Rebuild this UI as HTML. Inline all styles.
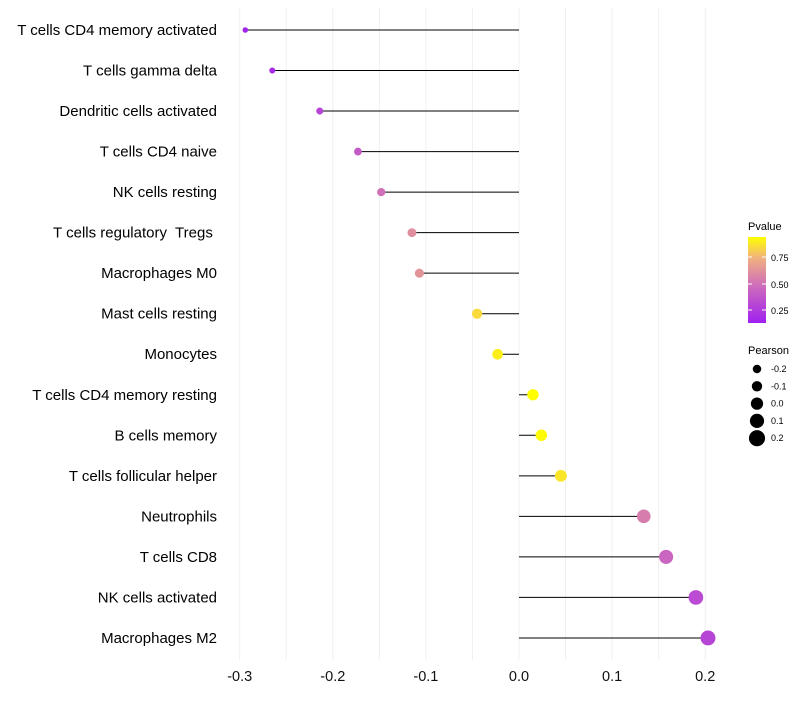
<!DOCTYPE html>
<html><head><meta charset="utf-8"><style>
body{margin:0;background:#fff;font-family:"Liberation Sans",sans-serif}
text{white-space:pre}
</style></head><body>
<svg id="c" width="800" height="700" xmlns="http://www.w3.org/2000/svg">
<defs><linearGradient id="pg" x1="0" y1="1" x2="0" y2="0">
<stop offset="0" stop-color="#a020f0"/><stop offset="0.45" stop-color="#d070b8"/><stop offset="0.75" stop-color="#f0b080"/><stop offset="1" stop-color="#ffff00"/></linearGradient></defs>
<g id="grid"></g><g id="marks"></g><g id="labels"></g>
<g>
<text x="748" y="230" font-size="11">Pvalue</text>
<rect x="748" y="237" width="18" height="86" fill="url(#pg)"/>
<line x1="748" x2="752" y1="257" y2="257" stroke="#fff"/><line x1="762" x2="766" y1="257" y2="257" stroke="#fff"/>
<line x1="748" x2="752" y1="284" y2="284" stroke="#fff"/><line x1="762" x2="766" y1="284" y2="284" stroke="#fff"/>
<line x1="748" x2="752" y1="310" y2="310" stroke="#fff"/><line x1="762" x2="766" y1="310" y2="310" stroke="#fff"/>
<text x="771" y="261" font-size="9">0.75</text><text x="771" y="288" font-size="9">0.50</text><text x="771" y="314" font-size="9">0.25</text>
</g>
<g id="sizeleg">
<text x="748" y="354" font-size="11">Pearson</text>
</g>
</svg>
<script>
const categories=["T cells CD4 memory activated","T cells gamma delta","Dendritic cells activated","T cells CD4 naive","NK cells resting","T cells regulatory  Tregs ","Macrophages M0","Mast cells resting","Monocytes","T cells CD4 memory resting","B cells memory","T cells follicular helper","Neutrophils","T cells CD8","NK cells activated","Macrophages M2"];
const pearson=[-0.294,-0.265,-0.214,-0.173,-0.148,-0.115,-0.107,-0.045,-0.023,0.015,0.024,0.045,0.134,0.158,0.190,0.203];
const pvalue=[0.15,0.18,0.30,0.40,0.50,0.62,0.64,0.85,0.90,0.95,0.93,0.88,0.55,0.45,0.33,0.30];
const xTicks=[-0.3,-0.2,-0.1,0.0,0.1,0.2];
const sizeLegend=[-0.2,-0.1,0.0,0.1,0.2];
const NS="http://www.w3.org/2000/svg";
const x=v=>519+v*931;
const y=i=>30+i*40.53;
const r=v=>2.7+(v+0.3)*9.5;
function lerp(a,b,t){return a.map((c,k)=>Math.round(c+(b[k]-c)*t));}
const stops=[[0.13,[160,32,240]],[0.5,[208,112,184]],[0.75,[240,176,128]],[0.94,[255,255,0]]];
function col(p){if(p<=stops[0][0])return `rgb(${stops[0][1]})`;for(let k=1;k<stops.length;k++){if(p<=stops[k][0]){const t=(p-stops[k-1][0])/(stops[k][0]-stops[k-1][0]);return `rgb(${lerp(stops[k-1][1],stops[k][1],t)})`;}}return "rgb(255,255,0)";}
function mk(t,a,p){const e=document.createElementNS(NS,t);for(const k in a)e.setAttribute(k,a[k]);p.appendChild(e);return e;}
const grid=document.getElementById('grid'),marks=document.getElementById('marks'),labels=document.getElementById('labels');
for(let v=-0.3;v<=0.2001;v+=0.05){const g=mk('line',{x1:x(v),x2:x(v),y1:8,y2:660,stroke:'#f0f0f0','stroke-width':1},grid);

}
xTicks.forEach(v=>{const t=mk('text',{x:x(v),y:681,'font-size':14.5,'text-anchor':'middle',fill:'#111'},labels);t.textContent=v.toFixed(1);

});
categories.forEach((c,i)=>{
const t=mk('text',{x:217,y:y(i)+5,'font-size':15,'text-anchor':'end',fill:'#000'},labels);t.textContent=c;


const l=mk('line',{x1:x(0),x2:x(pearson[i]),y1:y(i),y2:y(i),stroke:'#000','stroke-width':1},marks);


const d=mk('circle',{cx:x(pearson[i]),cy:y(i),r:r(pearson[i]),fill:col(pvalue[i])},marks);


});
const sl=document.getElementById('sizeleg');
sizeLegend.forEach((v,k)=>{const cy=369+k*17.3;
const c=mk('circle',{cx:757,cy:cy,r:r(v)+0.6,fill:'#000'},sl);


const t=mk('text',{x:771,y:cy+3,'font-size':9},sl);t.textContent=v.toFixed(1);

});
</script>
</body></html>
